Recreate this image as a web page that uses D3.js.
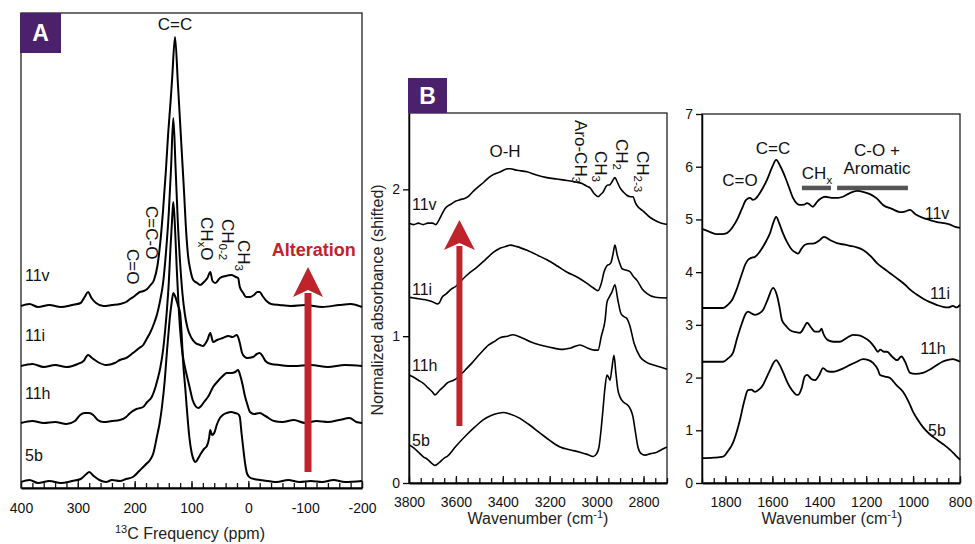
<!DOCTYPE html>
<html>
<head>
<meta charset="utf-8">
<script src="https://cdn.jsdelivr.net/npm/d3@7"></script>
<style>
  body { margin: 0; background: #fff; }
  text { font-family: "Liberation Sans", Arial, sans-serif; }
</style>
</head>
<body>
<script>
// sample names, top to bottom
var samples = ["11v", "11i", "11h", "5b"];

// panel A : 13C NMR, [ppm, intensity a.u. (shifted)]
var nmr11v = [[400,182],[385,184],[370,181],[350,183],[330,181],[310,183],[295,185],[288,191],[282,196],[276,190],[268,185],[255,182],[240,183],[226,184],[215,186],[208,189],[200,192],[191,196],[184,197],[178,199],[172,203],[166,208],[160,222],[155,245],[150,278],[145,318],[141,355],[137,385],[134,410],[129,451],[124,405],[120,365],[117,335],[113,295],[110,262],[106,232],[102,218],[97,208],[90,205],[85,203],[78,206],[72,210],[67,216],[63,207],[58,205],[50,210],[40,212],[30,213],[22,211],[18,210],[15,201],[9,195],[4,191],[-3,191],[-10,193],[-16,196],[-20,196],[-25,192],[-32,187],[-40,184],[-55,183],[-75,182],[-100,183],[-130,181],[-160,183],[-180,184],[-200,181]];
var nmr11i = [[400,122],[380,124],[360,121],[340,123],[320,121],[300,124],[290,127],[282,133],[275,130],[265,126],[250,123],[235,125],[226,128],[215,130],[203,135],[192,140],[185,143],[178,150],[173,155],[165,166],[160,175],[155,188],[150,205],[145,235],[140,275],[136,320],[132,370],[128,320],[124,265],[120,225],[116,195],[112,175],[107,160],[100,150],[93,145],[85,143],[80,142],[72,148],[67,155],[62,146],[55,148],[45,150],[35,152],[28,151],[20,153],[15,145],[11,135],[6,131],[2,130],[-8,131],[-15,134],[-20,135],[-25,132],[-30,127],[-40,124],[-55,123],[-80,122],[-110,123],[-140,121],[-170,123],[-200,122]];
var nmr11h = [[400,65],[380,67],[360,65],[340,66],[320,64],[305,67],[296,73],[288,75],[280,75],[273,73],[265,68],[255,66],[240,67],[226,68],[215,71],[208,75],[197,79],[185,81],[178,86],[170,91],[165,98],[160,108],[155,120],[150,138],[146,160],[143,180],[140,205],[137,240],[134,270],[132,286],[129,260],[126,220],[123,185],[120,158],[116,135],[112,122],[108,112],[103,100],[98,88],[93,82],[88,80],[83,82],[78,86],[70,92],[62,101],[55,106],[45,112],[38,115],[30,115],[23,116],[18,118],[14,112],[10,103],[6,92],[2,84],[-3,76],[-10,74],[-20,75],[-30,72],[-45,67],[-60,66],[-80,68],[-100,65],[-120,67],[-140,66],[-160,68],[-178,70],[-190,66],[-200,65]];
var nmr5b = [[400,6],[385,8],[370,5],[350,7],[330,5],[310,7],[295,9],[285,14],[280,16],[272,12],[262,8],[250,6],[240,8],[226,7],[215,9],[203,11],[192,17],[185,21],[178,25],[173,28],[167,35],[161,51],[156,65],[152,81],[147,108],[143,138],[140,158],[138,171],[135,185],[132,195],[129,192],[124,183],[120,175],[117,150],[115,128],[111,100],[108,78],[104,52],[100,36],[96,28],[93,26],[88,30],[84,34],[78,39],[73,42],[69,50],[67,58],[64,53],[60,55],[55,64],[50,70],[45,73],[38,75],[30,76],[23,75],[18,74],[15,71],[12,55],[9,40],[5,22],[2,14],[-4,10],[-10,9],[-20,8],[-35,7],[-50,6],[-70,8],[-90,6],[-110,7],[-130,6],[-150,8],[-170,6],[-200,7]];

// panel B : IR 3800-2700 cm-1, [wavenumber, absorbance (shifted)]
var irHi11v = [[3800,1.77],[3780,1.76],[3760,1.77],[3740,1.76],[3720,1.77],[3700,1.77],[3685,1.76],[3676,1.78],[3660,1.83],[3646,1.87],[3620,1.90],[3600,1.92],[3582,1.93],[3560,1.94],[3548,1.95],[3530,1.98],[3510,2.01],[3480,2.05],[3460,2.08],[3441,2.10],[3410,2.12],[3380,2.14],[3369,2.14],[3340,2.13],[3297,2.12],[3260,2.10],[3212,2.08],[3170,2.07],[3126,2.06],[3090,2.05],[3062,2.04],[3040,2.02],[3028,2.01],[3010,1.97],[2994,1.95],[2980,1.97],[2973,1.98],[2960,2.02],[2952,2.03],[2945,2.03],[2935,2.05],[2922,2.08],[2912,2.05],[2900,2.01],[2885,1.98],[2871,1.96],[2855,1.95],[2845,1.95],[2835,1.91],[2828,1.89],[2800,1.85],[2773,1.81],[2740,1.78],[2700,1.76]];
var irHi11i = [[3800,1.265],[3780,1.26],[3760,1.255],[3740,1.25],[3723,1.245],[3700,1.235],[3680,1.22],[3672,1.225],[3659,1.265],[3640,1.29],[3620,1.32],[3600,1.34],[3582,1.37],[3550,1.42],[3510,1.47],[3475,1.52],[3441,1.57],[3410,1.60],[3380,1.615],[3369,1.62],[3340,1.61],[3297,1.585],[3250,1.55],[3212,1.52],[3170,1.48],[3126,1.435],[3080,1.40],[3041,1.36],[3015,1.33],[2994,1.31],[2980,1.36],[2968,1.44],[2956,1.48],[2945,1.49],[2939,1.50],[2930,1.56],[2922,1.62],[2912,1.55],[2900,1.49],[2892,1.46],[2875,1.45],[2858,1.44],[2845,1.41],[2828,1.38],[2805,1.32],[2785,1.29],[2750,1.265],[2700,1.26]];
var irHi11h = [[3800,0.735],[3780,0.72],[3760,0.70],[3740,0.68],[3720,0.65],[3700,0.62],[3689,0.60],[3670,0.63],[3650,0.66],[3638,0.68],[3610,0.70],[3591,0.72],[3560,0.77],[3530,0.82],[3497,0.88],[3460,0.94],[3430,0.97],[3412,0.99],[3380,1.00],[3357,1.01],[3320,0.99],[3280,0.96],[3241,0.94],[3200,0.925],[3143,0.91],[3110,0.92],[3071,0.94],[3040,0.92],[3010,0.905],[2994,0.905],[2980,1.00],[2964,1.11],[2956,1.23],[2945,1.27],[2935,1.30],[2922,1.35],[2910,1.25],[2895,1.15],[2880,1.13],[2871,1.12],[2860,1.08],[2840,0.95],[2815,0.86],[2785,0.82],[2750,0.80],[2700,0.775]];
var irHi5b = [[3800,0.26],[3780,0.24],[3760,0.21],[3740,0.18],[3720,0.16],[3700,0.13],[3689,0.12],[3670,0.14],[3650,0.17],[3638,0.18],[3600,0.25],[3553,0.33],[3520,0.38],[3484,0.43],[3450,0.46],[3420,0.475],[3399,0.48],[3370,0.47],[3327,0.44],[3290,0.40],[3241,0.34],[3200,0.29],[3156,0.245],[3110,0.225],[3071,0.21],[3040,0.195],[3015,0.18],[3000,0.20],[2990,0.245],[2980,0.38],[2973,0.50],[2965,0.64],[2956,0.735],[2949,0.72],[2943,0.70],[2935,0.78],[2926,0.87],[2918,0.75],[2910,0.64],[2900,0.585],[2885,0.55],[2867,0.53],[2855,0.50],[2845,0.45],[2835,0.35],[2824,0.245],[2810,0.20],[2794,0.19],[2770,0.20],[2743,0.21],[2720,0.23],[2700,0.245]];

// panel C : IR 1900-800 cm-1, [wavenumber, absorbance (shifted)]
var irLo11v = [[1900,4.82],[1870,4.77],[1836,4.72],[1815,4.72],[1794,4.74],[1770,4.85],[1751,4.99],[1730,5.20],[1712,5.37],[1695,5.41],[1683,5.37],[1670,5.40],[1661,5.45],[1640,5.60],[1623,5.75],[1600,6.00],[1584,6.13],[1565,6.00],[1546,5.81],[1530,5.62],[1512,5.41],[1495,5.30],[1482,5.275],[1465,5.28],[1452,5.31],[1440,5.28],[1427,5.24],[1418,5.28],[1410,5.33],[1392,5.40],[1375,5.43],[1341,5.41],[1320,5.41],[1299,5.43],[1270,5.50],[1239,5.54],[1210,5.52],[1184,5.48],[1155,5.40],[1128,5.275],[1090,5.20],[1056,5.14],[1035,5.15],[1013,5.18],[990,5.10],[958,5.03],[930,4.99],[898,4.95],[870,4.93],[842,4.90],[820,4.86],[800,4.84]];
var irLo11i = [[1900,3.32],[1850,3.32],[1810,3.32],[1790,3.38],[1772,3.47],[1750,3.70],[1729,3.98],[1715,4.15],[1704,4.23],[1690,4.27],[1674,4.29],[1655,4.38],[1640,4.48],[1625,4.60],[1610,4.74],[1595,4.95],[1584,5.05],[1570,4.92],[1555,4.74],[1535,4.55],[1516,4.42],[1500,4.37],[1491,4.35],[1475,4.45],[1461,4.52],[1440,4.54],[1427,4.54],[1400,4.60],[1380,4.67],[1350,4.60],[1325,4.55],[1290,4.52],[1269,4.50],[1240,4.47],[1213,4.42],[1180,4.30],[1154,4.17],[1125,4.07],[1098,3.98],[1065,3.87],[1034,3.76],[1010,3.66],[983,3.57],[955,3.49],[928,3.43],[900,3.38],[872,3.34],[850,3.33],[830,3.36],[815,3.33],[800,3.38]];
var irLo11h = [[1900,2.30],[1850,2.30],[1810,2.30],[1790,2.36],[1768,2.47],[1750,2.75],[1729,3.04],[1715,3.20],[1704,3.25],[1690,3.22],[1674,3.19],[1655,3.22],[1640,3.28],[1620,3.48],[1597,3.70],[1580,3.55],[1570,3.35],[1559,3.09],[1540,2.97],[1525,2.90],[1500,2.86],[1482,2.85],[1465,2.95],[1452,3.04],[1435,2.95],[1418,2.87],[1400,2.87],[1390,2.93],[1384,2.85],[1363,2.71],[1340,2.68],[1312,2.68],[1280,2.76],[1256,2.81],[1230,2.80],[1213,2.77],[1184,2.68],[1165,2.58],[1150,2.49],[1140,2.53],[1125,2.49],[1111,2.49],[1090,2.40],[1068,2.33],[1050,2.40],[1034,2.30],[1013,2.09],[990,2.07],[958,2.09],[930,2.15],[898,2.24],[875,2.30],[855,2.33],[830,2.35],[800,2.30]];
var irLo5b = [[1900,0.47],[1850,0.48],[1810,0.50],[1790,0.60],[1768,0.76],[1750,1.00],[1738,1.20],[1720,1.55],[1704,1.76],[1690,1.77],[1674,1.73],[1655,1.78],[1640,1.86],[1625,2.00],[1610,2.14],[1595,2.28],[1584,2.33],[1570,2.25],[1555,2.11],[1535,1.90],[1516,1.76],[1500,1.68],[1491,1.67],[1475,1.80],[1462,2.02],[1452,2.05],[1435,1.98],[1418,1.95],[1400,2.05],[1384,2.18],[1365,2.12],[1341,2.11],[1300,2.17],[1269,2.24],[1240,2.30],[1213,2.35],[1190,2.33],[1171,2.28],[1150,2.15],[1141,2.05],[1120,2.02],[1098,1.99],[1070,1.85],[1043,1.73],[1020,1.55],[1000,1.35],[980,1.20],[958,1.06],[930,0.93],[898,0.82],[870,0.73],[842,0.63],[820,0.53],[800,0.44]];

// tick values
var ticksA = [400, 300, 200, 100, 0, -100, -200];
var ticksB = [3800, 3600, 3400, 3200, 3000, 2800];
var ticksC = [1800, 1600, 1400, 1200, 1000, 800];
var yTicksB = [0, 1, 2];
var yTicksC = [0, 1, 2, 3, 4, 5, 6, 7];

var purple = "#4b216b",
    red = "#c1232b",
    grey = "#555555";

var svg = d3.select("body").append("svg")
    .attr("width", 975)
    .attr("height", 544);

//scales for the three panels
var xA = d3.scaleLinear().domain([400, -200]).range([21, 362]),
    yA = d3.scaleLinear().domain([0, 475]).range([488, 13]);
var xB = d3.scaleLinear().domain([3800, 2700]).range([409, 667]),
    yB = d3.scaleLinear().domain([0, 2.52]).range([483, 113]);
var xC = d3.scaleLinear().domain([1900, 800]).range([702, 960]),
    yC = d3.scaleLinear().domain([0, 7]).range([483, 114]);

// plain numbers, hyphen for minus like the original
var plain = function(d) { return String(d); };

function drawTraces(g, list, x, y, width) {
  var line = d3.line()
      .x(function(d) { return x(d[0]); })
      .y(function(d) { return y(d[1]); })
      .curve(d3.curveMonotoneX);
  g.selectAll("path.trace")
    .data(list)
    .enter().append("path")
    .attr("class", "trace")
    .attr("d", line)
    .attr("fill", "none")
    .attr("stroke", "#000")
    .attr("stroke-width", width)
    .attr("stroke-linejoin", "round");
}

function frame(g, x, y) {
  var r = x.range(), t = y.range();
  g.append("rect")
    .attr("x", Math.min(r[0], r[1]))
    .attr("y", t[1])
    .attr("width", Math.abs(r[1] - r[0]))
    .attr("height", t[0] - t[1])
    .attr("fill", "none")
    .attr("stroke", "#222")
    .attr("stroke-width", 1.3);
}

function bottomAxis(g, x, y0, major, minorStep, pad) {
  var d = x.domain();
  var minor = d3.range(Math.max(d[0], d[1]), Math.min(d[0], d[1]) - 1, -minorStep);
  g.append("g")
    .attr("transform", "translate(0," + y0 + ")")
    .call(d3.axisBottom(x).tickValues(minor).tickSize(-5).tickFormat(""))
    .call(function(s) { s.select(".domain").remove(); });
  g.append("g")
    .attr("transform", "translate(0," + y0 + ")")
    .call(d3.axisBottom(x).tickValues(major).tickSize(-7).tickPadding(pad).tickSizeOuter(0).tickFormat(plain))
    .call(function(s) {
      s.select(".domain").attr("stroke-width", 2);
      s.selectAll("text").attr("font-size", 14).attr("fill", "#111")
        .attr("font-family", "Liberation Sans, Arial, sans-serif");
    });
  g.selectAll(".tick line").attr("stroke", "#111").attr("stroke-width", 1.3);
}

function leftAxis(g, y, x0, vals) {
  g.append("g")
    .attr("transform", "translate(" + x0 + ",0)")
    .call(d3.axisLeft(y).tickValues(vals).tickSize(6).tickPadding(3).tickSizeOuter(0).tickFormat(plain))
    .call(function(s) {
      s.select(".domain").attr("stroke-width", 1.5);
      s.selectAll("text").attr("font-size", 14).attr("fill", "#111")
        .attr("font-family", "Liberation Sans, Arial, sans-serif");
      s.selectAll(".tick line").attr("stroke-width", 1.3);
    });
}

// text with subscripts, optionally rotated 90 deg (reads downward)
function label(g, x, y, parts, opt) {
  opt = opt || {};
  var t = g.append("text")
    .attr("x", x).attr("y", y)
    .attr("font-size", opt.size || 17)
    .attr("fill", opt.color || "#111")
    .attr("text-anchor", opt.anchor || "start");
  if (opt.weight) t.attr("font-weight", opt.weight);
  if (opt.rotate) {
    t.attr("transform", "rotate(90," + x + "," + y + ")").attr("dominant-baseline", "central");
  }
  var shift = 0;
  parts.forEach(function(p) {
    var sub = typeof p !== "string";
    var s = t.append("tspan").text(sub ? p.sub : p);
    var target = sub ? 5 : 0;
    if (sub) s.attr("font-size", (opt.size || 17) * 0.68);
    if (target !== shift) { s.attr("dy", target - shift); shift = target; }
  });
  return t;
}

function panelTag(g, x, y, w, h, letter) {
  g.append("rect").attr("x", x).attr("y", y).attr("width", w).attr("height", h).attr("fill", purple);
  g.append("text")
    .attr("x", x + w / 2).attr("y", y + h / 2 + 8)
    .attr("text-anchor", "middle")
    .attr("font-size", 23)
    .attr("font-weight", "bold")
    .attr("fill", "#fff")
    .attr("font-family", "Open Sans, Liberation Sans, sans-serif")
    .text(letter);
}

function arrow(g, cx, tipY, baseY, bottomY, halfHead, halfShaft) {
  g.append("rect")
    .attr("x", cx - halfShaft).attr("y", baseY - 4)
    .attr("width", halfShaft * 2).attr("height", bottomY - baseY + 4)
    .attr("fill", red);
  g.append("path")
    .attr("d", "M" + cx + "," + tipY + "L" + (cx + halfHead) + "," + baseY +
               "L" + cx + "," + (baseY - 7) + "L" + (cx - halfHead) + "," + baseY + "Z")
    .attr("fill", red);
}

function wavenumberTitle(g, cx) {
  var t = g.append("text")
    .attr("x", cx).attr("y", 524)
    .attr("text-anchor", "middle")
    .attr("font-size", 16)
    .attr("fill", "#222");
  t.append("tspan").text("Wavenumber (cm");
  t.append("tspan").attr("font-size", 11).attr("dy", -6).text("-1");
  t.append("tspan").attr("dy", 6).text(")");
}

//---------------- panel A ----------------
var gA = svg.append("g");
frame(gA, xA, yA);
drawTraces(gA, [nmr11v, nmr11i, nmr11h, nmr5b], xA, yA, 2);
bottomAxis(gA, xA, 488, ticksA, 20, 15);

// sample names
[275, 335, 393, 455].forEach(function(yy, i) {
  label(gA, 25, yy + 6, [samples[i]], {size: 16});
});

label(gA, xA(129), 30, ["C=C"], {anchor: "middle"});
label(gA, 152, 206, ["C=C-O"], {rotate: true});
label(gA, 133, 249, ["C=O"], {rotate: true});
label(gA, 207, 217, ["CH", {sub: "x"}, "O"], {rotate: true});
label(gA, 228, 219, ["CH", {sub: "0-2"}], {rotate: true});
label(gA, 244, 240, ["CH", {sub: "3"}], {rotate: true});

label(gA, xA(-115), 256, ["Alteration"], {anchor: "middle", color: red, weight: "bold", size: 18});
arrow(gA, xA(-105), 267, 297, 472, 15, 3.5);

var axisTitleA = gA.append("text")
  .attr("x", 190).attr("y", 539)
  .attr("text-anchor", "middle")
  .attr("font-size", 16)
  .attr("fill", "#222");
axisTitleA.append("tspan").attr("font-size", 11).attr("dy", -6).text("13");
axisTitleA.append("tspan").attr("dy", 6).text("C Frequency (ppm)");

panelTag(gA, 20, 13, 41, 40, "A");

//---------------- panel B ----------------
var gB = svg.append("g");
frame(gB, xB, yB);
drawTraces(gB, [irHi11v, irHi11i, irHi11h, irHi5b], xB, yB, 1.6);
bottomAxis(gB, xB, 483, ticksB, 50, 14);
leftAxis(gB, yB, 409, yTicksB);

[204, 289, 365, 440].forEach(function(yy, i) {
  label(gB, 412, yy + 6, [samples[i]], {size: 16});
});

label(gB, 505, 157, ["O-H"], {anchor: "middle"});
label(gB, 581, 120, ["Aro-CH", {sub: "3"}], {rotate: true});
label(gB, 601, 151, ["CH", {sub: "3"}], {rotate: true});
label(gB, 622, 139, ["CH", {sub: "2"}], {rotate: true});
label(gB, 643, 151, ["CH", {sub: "2-3"}], {rotate: true});

arrow(gB, xB(3585), 220, 250, 426, 15.5, 3);

wavenumberTitle(gB, 538);

gB.append("text")
  .attr("transform", "translate(383,300) rotate(-90)")
  .attr("text-anchor", "middle")
  .attr("font-size", 16)
  .attr("fill", "#222")
  .text("Normalized absorbance (shifted)");

panelTag(gB, 408, 78, 39, 35, "B");

//---------------- panel C ----------------
var gC = svg.append("g");
frame(gC, xC, yC);
drawTraces(gC, [irLo11v, irLo11i, irLo11h, irLo5b], xC, yC, 1.8);
bottomAxis(gC, xC, 483, ticksC, 50, 14);
leftAxis(gC, yC, 702, yTicksC);

[{x: 937, y: 213}, {x: 940, y: 293}, {x: 933, y: 348}, {x: 937, y: 430}].forEach(function(p, i) {
  label(gC, p.x, p.y + 6, [samples[i]], {size: 16, anchor: "middle"});
});

label(gC, 740, 186, ["C=O"], {anchor: "middle"});
label(gC, 773, 154, ["C=C"], {anchor: "middle"});
label(gC, 817, 179, ["CH", {sub: "x"}], {anchor: "middle"});
label(gC, 877, 156, ["C-O +"], {anchor: "middle"});
label(gC, 877, 174, ["Aromatic"], {anchor: "middle"});

// band ranges
[[1474, 1350], [1324, 1022]].forEach(function(b) {
  gC.append("rect")
    .attr("x", xC(b[0])).attr("y", yC(5.64))
    .attr("width", xC(b[1]) - xC(b[0])).attr("height", 4.5)
    .attr("fill", grey);
});

wavenumberTitle(gC, 832);
</script>
</body>
</html>
